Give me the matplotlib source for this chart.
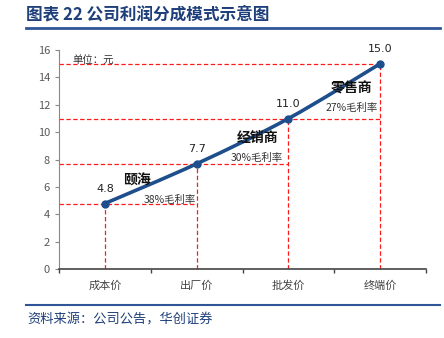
import matplotlib
matplotlib.use("Agg")
import matplotlib.pyplot as plt
from matplotlib.path import Path
from matplotlib.patches import PathPatch
from matplotlib.lines import Line2D

plt.rcParams['font.family'] = ['Noto Sans CJK SC', 'DejaVu Sans']

stages = ["成本价", "出厂价", "批发价", "终端价"]
prices = [4.8, 7.7, 11.0, 15.0]
players = ["颐海", "经销商", "零售商"]
margins = ["38%毛利率", "30%毛利率", "27%毛利率"]

LINE_BLUE = "#1F4E8C"
RED = "#FF1A1A"
HEAD_BLUE = "#1F3F7A"

fig = plt.figure(figsize=(4.44, 3.38), dpi=100)
ax = fig.add_axes([0.1329, 0.2033, 0.8266, 0.6487])

x = list(range(len(prices)))

# dashed guides: vertical drop from each point, horizontal run to the next stage
for i, v in enumerate(prices):
    ax.plot([i, i], [0, v], color=RED, lw=0.9, ls=(0, (3.5, 2)), zorder=1)
    x_end = x[min(i + 1, len(x) - 1)]
    ax.plot([-0.5, x_end], [v, v], color=RED, lw=0.9, ls=(0, (3.5, 2)), zorder=1)

# smoothed price line (Catmull-Rom segments as cubic Beziers)
verts = [(x[0], prices[0])]
codes = [Path.MOVETO]
pts = list(zip(x, prices))
for i in range(len(pts) - 1):
    p0 = pts[i - 1] if i > 0 else pts[i]
    p1, p2 = pts[i], pts[i + 1]
    p3 = pts[i + 2] if i + 2 < len(pts) else pts[i + 1]
    c1 = (p1[0] + (p2[0] - p0[0]) / 6, p1[1] + (p2[1] - p0[1]) / 6)
    c2 = (p2[0] - (p3[0] - p1[0]) / 6, p2[1] - (p3[1] - p1[1]) / 6)
    verts += [c1, c2, p2]
    codes += [Path.CURVE4] * 3
ax.add_patch(PathPatch(Path(verts, codes), fill=False, ec=LINE_BLUE, lw=2.6,
                       capstyle="round", zorder=3))
ax.plot(x, prices, "o", color=LINE_BLUE, ms=5, zorder=4)

for xi, v in zip(x, prices):
    ax.text(xi, v + 0.7, f"{v:.1f}", ha="center", va="bottom", fontsize=8,
            color="#222222", family=["DejaVu Sans"])

# who takes each step, and their gross margin
mids = [(x[i] + x[i + 1]) / 2 for i in range(len(players))]
name_pos = [(mids[0] - 0.15, 6.5), (mids[1] + 0.16, 9.6), (mids[2] + 0.19, 13.2)]
margin_pos = [(mids[0] + 0.21, 5.05), (mids[1] + 0.15, 8.1), (mids[2] + 0.19, 11.8)]
for name, (nx, ny) in zip(players, name_pos):
    ax.text(nx, ny, name, ha="center", va="center", fontsize=10,
            fontweight="bold", color="#111111")
for m, (mx, my) in zip(margins, margin_pos):
    ax.text(mx, my, m, ha="center", va="center", fontsize=7.5, color="#333333")

ax.text(-0.35, 15.2, "单位：元", ha="left", va="center", fontsize=7.5,
        color="#333333")

ax.set_xlim(-0.5, len(stages) - 0.5)
ax.set_ylim(0, 16)
ax.set_yticks(range(0, 17, 2))
ax.set_xticks([i - 0.5 for i in range(len(stages) + 1)])
ax.set_xticklabels([])
ax.set_xticks(x, minor=True)
ax.set_xticklabels(stages, minor=True)
ax.tick_params(axis="x", which="minor", length=0, pad=8, labelsize=8,
               labelcolor="#444444")
ax.tick_params(axis="x", which="major", length=3, direction="out",
               color="#444444", width=1)
ax.tick_params(axis="y", length=3, direction="out", labelsize=8,
               labelcolor="#595959", color="#888888")
for s in ("top", "right"):
    ax.spines[s].set_visible(False)
ax.spines["left"].set_color("#888888")
ax.spines["bottom"].set_color("#444444")
ax.spines["bottom"].set_linewidth(1.2)

# header and footer
fig.text(0.059, 0.956, "图表 22 公司利润分成模式示意图", ha="left", va="center",
         fontsize=12, fontweight="bold", color=HEAD_BLUE)
fig.add_artist(Line2D([0.059, 0.991], [0.917, 0.917], color="#2F5597", lw=2))
fig.add_artist(Line2D([0.059, 0.991], [0.0976, 0.0976], color="#2F5597", lw=1.5))
fig.text(0.061, 0.053, "资料来源：公司公告，华创证券", ha="left", va="center",
         fontsize=9.5, style="italic", color=HEAD_BLUE)

fig.savefig("out.png", dpi=100)
